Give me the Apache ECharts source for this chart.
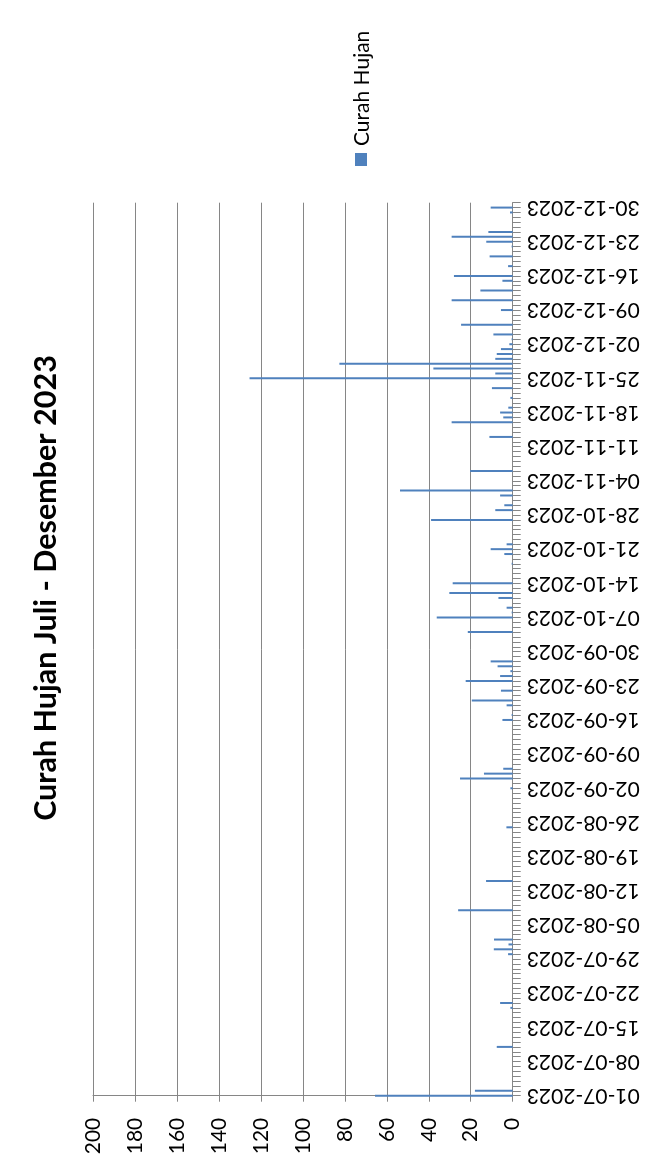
<!DOCTYPE html>
<html>
<head>
<meta charset="utf-8">
<script src="https://cdn.jsdelivr.net/npm/echarts@6/dist/echarts.min.js"></script>
<style>
  html, body { margin: 0; padding: 0; background: #ffffff; }
  #chart { width: 651px; height: 1169px; }
</style>
</head>
<body>
<div id="chart"></div>
<script>
// Daily rainfall (mm), one array per month
const juli      = [65.6, 18, 0, 0, 0, 0, 0, 0, 0, 0, 7.6, 0, 0, 0, 0, 0, 0, 0, 1.1, 6, 0, 0, 0, 0, 0, 0, 0, 0, 0, 2.2, 9];
const agustus   = [2, 8.9, 0, 0, 0, 0, 0, 26, 0, 0, 0, 0, 0, 12.7, 0, 0, 0, 0, 0, 0, 0, 0, 0, 0, 3, 0, 0, 0, 0, 0, 0];
const september = [0, 1.1, 0, 25.1, 13.7, 4.5, 0, 0, 0, 0, 0, 0, 0, 0, 0, 4.9, 0.5, 0, 2.9, 19.5, 0, 5.6, 0, 22.4, 6, 1.1, 7.2, 10.5, 0, 0];
const oktober   = [0, 0, 0, 21.4, 0, 0, 36.2, 0.5, 2.9, 0, 6.8, 30.2, 0, 28.6, 0, 0, 0, 0.5, 0, 4, 10.5, 2.9, 0, 0, 0, 0, 38.9, 0, 8.3, 4, 0];
const november  = [6, 53.7, 0, 0, 0, 20.3, 0, 0, 0, 0, 0, 0, 11.1, 0, 0, 29.1, 4.5, 6, 2.1, 0, 1.1, 0, 9.9, 0, 125.4, 8.3, 37.8, 82.6, 8.3, 7.6];
const desember  = [5.6, 1.6, 0.5, 9.2, 0, 24.6, 0, 0, 5.6, 0, 29.1, 0, 15.4, 0, 4.9, 28, 0, 2.2, 0, 11, 0, 0.5, 12.6, 29.1, 11.6, 0, 0, 0, 1.3, 10.5, 0];

const monthNumbers = ['07', '08', '09', '10', '11', '12'];
const monthData = [juli, agustus, september, oktober, november, desember];
const year = '2023';

// Value axis ticks
const valueMin = 0;
const valueMax = 200;
const valueStep = 20;

const seriesName = 'Curah Hujan';
const titleText = 'Curah Hujan Juli - Desember 2023';

// Build the day-by-day category list and values
const categories = [];
const values = [];
monthData.forEach(function (arr, m) {
  arr.forEach(function (v, d) {
    const dd = (d + 1 < 10 ? '0' : '') + (d + 1);
    categories.push(dd + '-' + monthNumbers[m] + '-' + year);
    values.push(v);
  });
});

const barColor = '#4f81bd';
const axisGray = '#868686';
const font = 'Lato';

const chart = echarts.init(document.getElementById('chart'), null, { renderer: 'canvas' });

chart.setOption({
  animation: false,
  backgroundColor: '#ffffff',
  grid: {
    left: 93,
    right: 138.3,
    top: 202.7,
    bottom: 73.3,
    containLabel: false,
    outerBoundsMode: 'none'
  },
  xAxis: {
    type: 'value',
    position: 'bottom',
    inverse: true,
    min: valueMin,
    max: valueMax,
    interval: valueStep,
    axisLine: { show: true, lineStyle: { color: axisGray, width: 1 } },
    axisTick: { show: true, inside: false, length: 6, lineStyle: { color: axisGray } },
    splitLine: { show: true, lineStyle: { color: axisGray, width: 1 } },
    axisLabel: {
      rotate: 90,
      margin: 22,
      fontFamily: font,
      fontSize: 21,
      color: '#000000'
    }
  },
  yAxis: {
    type: 'category',
    position: 'right',
    boundaryGap: false,
    data: categories,
    axisLine: { show: true, onZero: false, lineStyle: { color: axisGray, width: 1 } },
    axisTick: { show: true, inside: false, interval: 0, length: 8, lineStyle: { color: axisGray } },
    splitLine: { show: false },
    axisLabel: {
      interval: 6,
      rotate: 180,
      margin: 14,
      fontFamily: font,
      fontSize: 21,
      color: '#000000'
    }
  },
  series: [{
    name: seriesName,
    type: 'bar',
    data: values,
    barWidth: 2,
    itemStyle: { color: barColor },
    clip: false
  }],
  graphic: [
    {
      type: 'text',
      x: 46,
      y: 588,
      rotation: Math.PI / 2,
      style: {
        text: titleText,
        fontFamily: font,
        fontWeight: 'bold',
        fontSize: 30.5,
        fill: '#000000',
        align: 'center',
        verticalAlign: 'middle'
      }
    },
    {
      type: 'rect',
      shape: { x: 355, y: 153, width: 12, height: 13 },
      style: { fill: barColor }
    },
    {
      type: 'text',
      x: 362,
      y: 146,
      rotation: Math.PI / 2,
      style: {
        text: seriesName,
        fontFamily: font,
        fontSize: 21,
        fill: '#000000',
        align: 'left',
        verticalAlign: 'middle'
      }
    }
  ]
});
</script>
</body>
</html>
